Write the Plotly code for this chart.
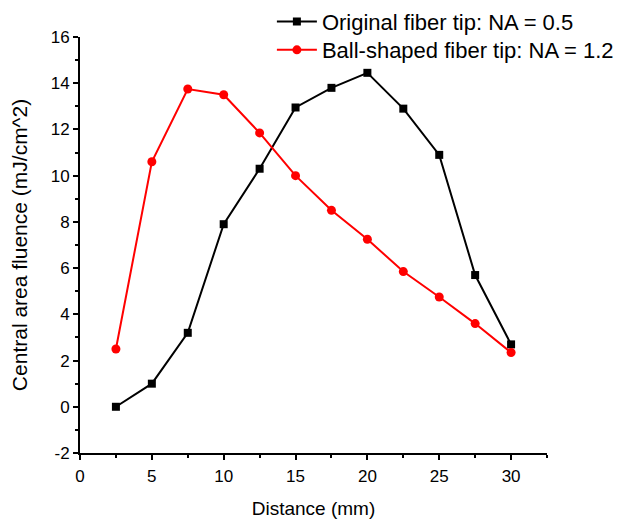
import plotly.graph_objects as go

distance = [2.5, 5, 7.5, 10, 12.5, 15, 17.5, 20, 22.5, 25, 27.5, 30]
original_na05 = [0.0, 1.0, 3.2, 7.9, 10.3, 12.95, 13.8, 14.45, 12.9, 10.9, 5.7, 2.7]
ball_na12 = [2.5, 10.6, 13.75, 13.5, 11.85, 10.0, 8.5, 7.25, 5.85, 4.75, 3.6, 2.35]

series_names = ["Original fiber tip: NA = 0.5", "Ball-shaped fiber tip: NA = 1.2"]
x_title = "Distance (mm)"
y_title = "Central area fluence (mJ/cm^2)"
x_ticks = [0, 5, 10, 15, 20, 25, 30]
y_ticks = [-2, 0, 2, 4, 6, 8, 10, 12, 14, 16]

FONT = "Arial, 'Liberation Sans', sans-serif"

fig = go.Figure()
fig.add_trace(go.Scatter(
    x=distance, y=original_na05, name=series_names[0], mode="lines+markers",
    line=dict(color="black", width=2),
    marker=dict(symbol="square", size=8, color="black"),
    legend="legend",
))
fig.add_trace(go.Scatter(
    x=distance, y=ball_na12, name=series_names[1], mode="lines+markers",
    line=dict(color="#ff0000", width=2),
    marker=dict(symbol="circle", size=9, color="#ff0000"),
    legend="legend2",
))

axis_common = dict(
    showgrid=False, zeroline=False, showline=True, linecolor="black", linewidth=2,
    ticks="outside", ticklen=5, tickwidth=1.5, tickcolor="black",
    tickfont=dict(family=FONT, size=17, color="black"),
    mirror=False,
)

fig.update_xaxes(
    range=[0, 32.5], tickmode="array", tickvals=x_ticks, ticktext=[str(v) for v in x_ticks],
    ticklabelstandoff=2,
    minor=dict(ticks="outside", tickmode="linear", dtick=2.5, tick0=0, ticklen=3, tickwidth=1.5, tickcolor="black"),
    title=dict(text=x_title, font=dict(family=FONT, size=19, color="black"), standoff=17),
    **axis_common,
)
fig.update_yaxes(
    range=[-2, 16], tickmode="array", tickvals=y_ticks, ticktext=[str(v) for v in y_ticks],
    minor=dict(ticks="outside", tickmode="linear", dtick=1, tick0=0, ticklen=3, tickwidth=1.5, tickcolor="black"),
    title=dict(text=y_title, font=dict(family=FONT, size=21, color="black"), standoff=18),
    **axis_common,
)

legend_common = dict(
    xanchor="left", yanchor="middle",
    font=dict(family=FONT, size=22, color="black"),
    bgcolor="rgba(0,0,0,0)", itemwidth=40,
)

fig.update_layout(
    width=615, height=511,
    margin=dict(l=72, r=76, t=29, b=66, autoexpand=False),
    plot_bgcolor="white", paper_bgcolor="white",
    showlegend=True,
    legend=dict(x=0.4109, y=1.0368, **legend_common),
    legend2=dict(x=0.4109, y=0.9687, **legend_common),
)

fig.write_html("out.html")
